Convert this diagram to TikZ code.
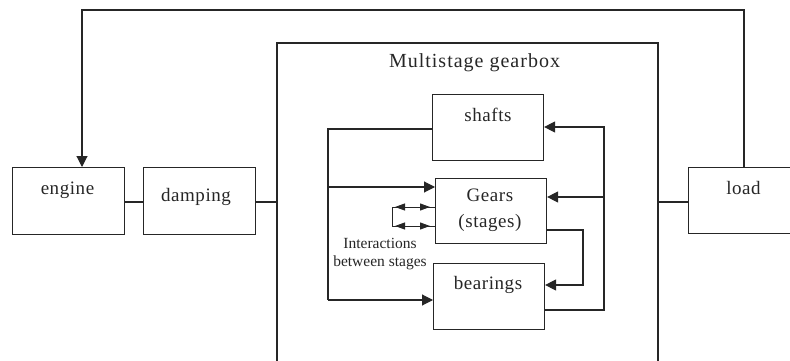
\documentclass[tikz,border=0pt]{standalone}
\usepackage{fontspec}
\setmainfont{Liberation Serif}
\usetikzlibrary{arrows.meta,calc}
\tikzset{
  box/.style={draw, line width=1.1pt, rectangle, inner sep=0pt, anchor=north west},
  lbl/.style={font=\fontsize{19}{22}\selectfont\addfontfeatures{LetterSpace=3}, inner sep=0pt},
  wire/.style={line width=1.1pt},
  arr/.style={wire, -{Triangle[length=11pt,width=11pt]}},
  sarr/.style={line width=1pt, -{Triangle[length=10pt,width=7pt]}},
}
\begin{document}
\begin{tikzpicture}[x=1pt,y=-1pt, color=black!85]
\useasboundingbox (0,0) rectangle (790,361);
% outer boxes
\node[box, minimum width=112pt, minimum height=67pt] (engine) at (12,167) {};
\node[box, minimum width=112pt, minimum height=67pt] (damping) at (143,167) {};
\node[box, minimum width=130pt, minimum height=66pt] (load) at (688,167) {};
\draw[wire] (277,365) -- (277,43) -- (658,43) -- (658,365);
\coordinate (gbL) at (277,202);
\coordinate (gbR) at (658,202);
\node[lbl] (tengine) at (67.5,190) {engine};
\node[lbl] (tdamping) at (196,196.5) {damping};
\node[lbl] (tload) at (743.5,188) {load};
\node[lbl, font=\fontsize{20}{22}\selectfont\addfontfeatures{LetterSpace=5}] (title) at (474.5,63) {Multistage gearbox};
% inner boxes
\node[box, minimum width=111pt, minimum height=66pt] (shafts) at (432,94) {};
\node[box, minimum width=111pt, minimum height=65pt] (gears) at (435,178) {};
\node[box, minimum width=111pt, minimum height=66pt] (bearings) at (433,263) {};
\node[lbl] (tshafts) at (488,115) {shafts};
\node[lbl, align=center] (tgears) at (490,210.5) {Gears\\[4pt](stages)};
\node[lbl] (tbearings) at (488,285) {bearings};
\node[font=\fontsize{15.5}{18}\selectfont, align=center, inner sep=0pt] (tinter) at (380,254) {Interactions\\between stages};
% chain connections
\draw[wire] (engine.east |- 0,202) -- (damping.west |- 0,202);
\draw[wire] (damping.east |- 0,202) -- (gbL);
\draw[wire] (gbR) -- (load.west |- 0,202);
\coordinate (top1) at (82,10);
\coordinate (top2) at (744,10);
\draw[arr] (load.north -| top2) -- (top2) -- (top1) -- (engine.north -| top1);
% left bus
\coordinate (lb1) at (328,129);
\coordinate (lb2) at (328,187);
\coordinate (lb3) at (328,300);
\draw[wire] (shafts.west |- lb1) -- (lb1) -- (lb3);
\draw[arr] (lb3) -- (bearings.west |- lb3);
\draw[arr] (lb2) -- (gears.west |- lb2);
% right bus
\coordinate (rb1) at (604,127);
\coordinate (rb2) at (604,197);
\coordinate (rb3) at (604,310);
\draw[arr] (bearings.east |- rb3) -- (rb3) -- (rb1) -- (shafts.east |- rb1);
\draw[arr] (rb2) -- (gears.east |- rb2);
% gears -> bearings
\coordinate (gb1) at (583,230);
\coordinate (gb2) at (583,285);
\draw[arr] (gears.east |- gb1) -- (gb1) -- (gb2) -- (bearings.east |- gb2);
% interactions bracket
\coordinate (ia1) at (392,207);
\coordinate (ia2) at (392,226);
\draw[line width=1pt] (gears.west |- ia1) -- (ia1) -- (ia2) -- (gears.west |- ia2);
\draw[sarr] (410,207) -- (395,207);
\draw[sarr] (415,207) -- (430,207);
\draw[sarr] (410,226) -- (395,226);
\draw[sarr] (415,226) -- (430,226);
\end{tikzpicture}
\end{document}
